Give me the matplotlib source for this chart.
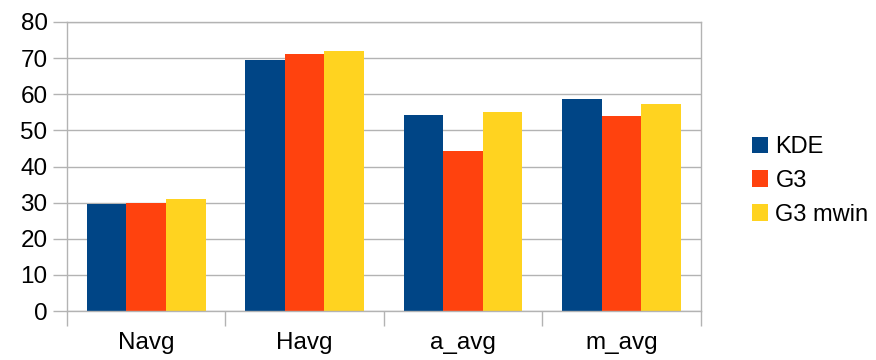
import numpy as np
import matplotlib
matplotlib.use("Agg")
import matplotlib.pyplot as plt

categories = ["Navg", "Havg", "a_avg", "m_avg"]
kde = [29.6, 69.5, 54.3, 58.7]
g3 = [30.0, 71.1, 44.3, 54.0]
g3_mwin = [31.0, 72.0, 55.1, 57.3]
series_names = ["KDE", "G3", "G3 mwin"]
yticks = [0, 10, 20, 30, 40, 50, 60, 70, 80]

plt.rcParams["font.family"] = ["Liberation Sans", "DejaVu Sans"]

fig = plt.figure(figsize=(8.76, 3.6), dpi=100)
ax = fig.add_axes([67 / 876, 49 / 360, 633.5 / 876, 289 / 360])

x = np.arange(len(categories))
w = 0.25
colors = ["#004586", "#ff420e", "#ffd320"]
bars = []
for i, (vals, c) in enumerate(zip([kde, g3, g3_mwin], colors)):
    bars.append(ax.bar(x + (i - 1) * w, vals, w, color=c, label=series_names[i], zorder=2))

grid_c = "#b3b3b3"
ax.set_xlim(-0.5, len(categories) - 0.5)
ax.set_ylim(0, 80)
ax.set_yticks(yticks)
ax.yaxis.grid(True, color=grid_c, linewidth=1)
ax.set_axisbelow(True)

# category boundaries as ticks, labels at the centers
ax.set_xticks(np.arange(len(categories) + 1) - 0.5)
ax.set_xticklabels([])
ax.set_xticks(x, minor=True)
ax.set_xticklabels(categories, minor=True)
ax.tick_params(axis="x", which="major", length=11, width=1, color=grid_c)
ax.tick_params(axis="x", which="minor", length=0, pad=15, labelsize=17.5)
ax.tick_params(axis="y", length=10, width=1, color=grid_c, pad=4, labelsize=17.5)

for s in ax.spines.values():
    s.set_color(grid_c)
    s.set_linewidth(1)

fig.legend(handles=bars, labels=series_names, loc="center left",
           bbox_to_anchor=(740 / 876, 1 - 181 / 360), frameon=False,
           fontsize=17, handlelength=0.7, handleheight=0.7,
           handletextpad=0.3, labelspacing=0.5, borderpad=0)

fig.savefig("out.png", dpi=100)
